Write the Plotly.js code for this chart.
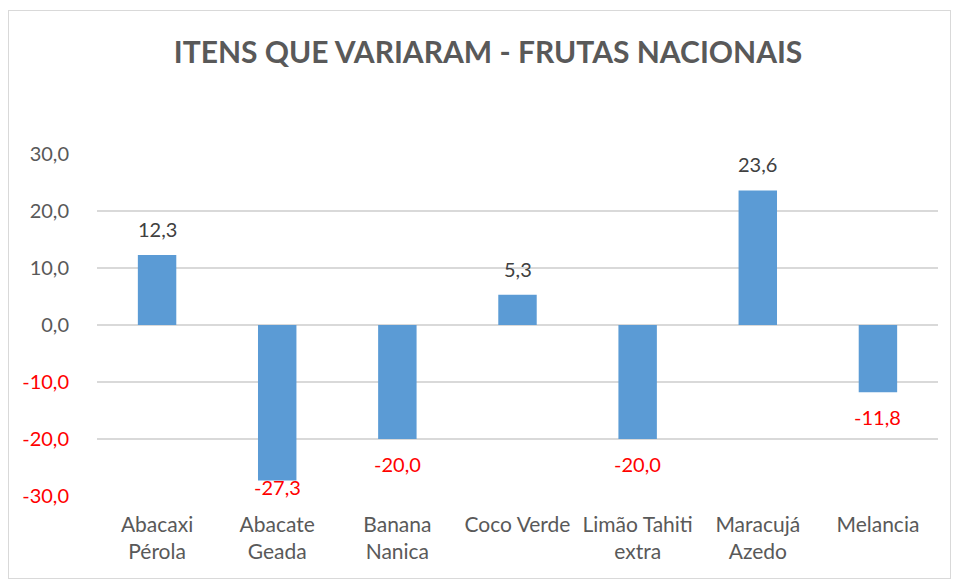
<!DOCTYPE html>
<html><head><meta charset="utf-8">
<script src="https://cdn.plot.ly/plotly-3.0.1.min.js"></script>
<style>
html,body{margin:0;padding:0;background:#fff;}
#wrap{position:relative;width:957px;height:581px;}
#border{position:absolute;left:8px;top:10px;width:941px;height:567px;border:1px solid #d9d9d9;pointer-events:none;}
#chart{position:absolute;left:0;top:0;width:957px;height:581px;}
</style></head>
<body><div id="wrap"><div id="chart"></div><div id="border"></div></div>
<script>
const categories = ["Abacaxi<br>Pérola","Abacate<br>Geada","Banana<br>Nanica","Coco Verde","Limão Tahiti<br>extra","Maracujá<br>Azedo","Melancia"];
const values = [12.3, -27.3, -20.0, 5.3, -20.0, 23.6, -11.8];
const tickVals = [-30, -20, -10, 0, 10, 20, 30];
const tickLabels = ["-30,0","-20,0","-10,0","0,0","10,0","20,0","30,0"];

const FONT = 'Lato, sans-serif';
const tickText = tickVals.map((v,i) => v < 0 ? '<span style="color:#ff0000">'+tickLabels[i]+'</span>' : tickLabels[i]);

// plot geometry for label offsets
const plotTop = 154, plotBottom = 496, yMin = -30, yMax = 30;
const pxPerUnit = (plotBottom - plotTop) / (yMax - yMin);

const annotations = values.map((v, i) => {
  let shift;
  if (v >= 0) shift = 26;
  else {
    const endPx = plotTop + (yMax - v) * pxPerUnit;
    shift = -Math.min(25, Math.max(6, (plotBottom - 9) - endPx));
  }
  return {
    x: categories[i], y: v, xref: 'x', yref: 'y',
    text: v.toFixed(1).replace('.', ','), showarrow: false,
    yanchor: 'middle', yshift: shift,
    font: {family: FONT, size: 20, color: v < 0 ? '#ff0000' : '#404040'}
  };
});

const trace = {
  type: 'bar', x: categories, y: values,
  marker: {color: '#5b9bd5'},
  hoverinfo: 'none'
};
const layout = {
  width: 957, height: 581,
  margin: {l: 97, r: 19, t: 154, b: 85},
  paper_bgcolor: '#fff', plot_bgcolor: '#fff',
  bargap: 0.68,
  showlegend: false,
  annotations: annotations,
  title: {text: '<b>ITENS QUE VARIARAM - FRUTAS NACIONAIS</b>', x: 0.51, xref: 'container', xanchor: 'center', y: 0.91, yanchor: 'middle',
          font: {family: FONT, size: 30, color: '#595959'}},
  font: {family: FONT, size: 21, color: '#595959'},
  xaxis: {showgrid: false, showline: false, ticks: '', tickfont: {family: FONT, size: 21, color: '#595959'}, tickangle: 0,
          ticklabelstandoff: 14},
  yaxis: {range: [yMin, yMax], tickvals: tickVals, ticktext: tickText, showgrid: true, gridcolor: '#d9d9d9', gridwidth: 1.5,
          zeroline: true, zerolinecolor: '#d9d9d9', zerolinewidth: 1.5, showline: false, ticks: '',
          ticklabelstandoff: 27, tickfont: {family: FONT, size: 20, color: '#595959'}}
};
Plotly.newPlot('chart', [trace], layout, {displayModeBar: false, staticPlot: true});
</script></body></html>
